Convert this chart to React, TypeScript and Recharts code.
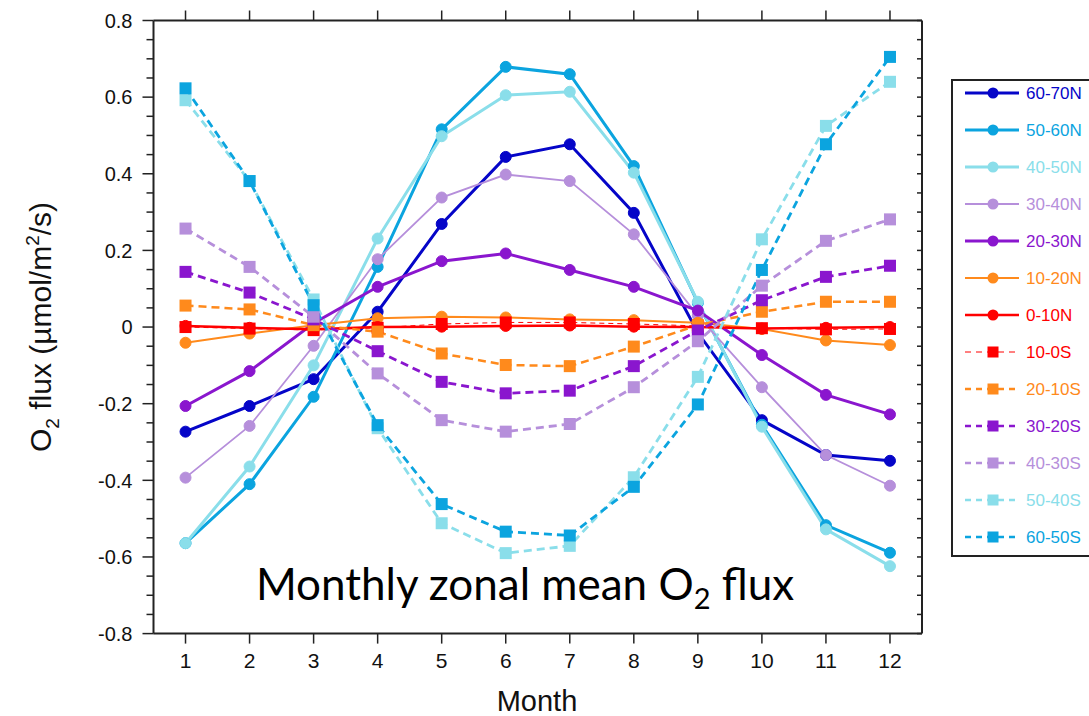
import React from 'react';
import { LineChart, Line, XAxis, YAxis, Label } from 'recharts';

// month on the x axis
const months = [1, 2, 3, 4, 5, 6, 7, 8, 9, 10, 11, 12];

// northern bands (solid, circles)
const n6070 = [-0.273, -0.206, -0.136, 0.04, 0.269, 0.444, 0.477, 0.298, -0.015, -0.243, -0.334, -0.349];
const n5060 = [-0.564, -0.41, -0.182, 0.157, 0.516, 0.679, 0.66, 0.42, 0.063, -0.255, -0.517, -0.589];
const n4050 = [-0.564, -0.364, -0.1, 0.231, 0.498, 0.605, 0.614, 0.403, 0.066, -0.26, -0.528, -0.624];
const n3040 = [-0.393, -0.258, -0.049, 0.177, 0.338, 0.398, 0.381, 0.242, 0.03, -0.157, -0.334, -0.414];
const n2030 = [-0.206, -0.115, 0.01, 0.105, 0.172, 0.192, 0.149, 0.105, 0.043, -0.073, -0.177, -0.228];
const n1020 = [-0.041, -0.017, 0.005, 0.023, 0.027, 0.025, 0.02, 0.018, 0.011, -0.005, -0.035, -0.047];
const n0010 = [0.003, -0.002, -0.006, 0.0, 0.001, 0.003, 0.004, 0.001, 0.0, -0.004, -0.002, 0.0];

// southern bands (dashed, squares)
const s1000 = [0.0, -0.004, -0.008, -0.002, 0.008, 0.012, 0.012, 0.008, 0.003, -0.003, -0.006, -0.005];
const s2010 = [0.056, 0.046, 0.005, -0.012, -0.069, -0.099, -0.102, -0.051, 0.005, 0.04, 0.066, 0.066];
const s3020 = [0.144, 0.09, 0.02, -0.063, -0.143, -0.173, -0.166, -0.102, -0.009, 0.07, 0.131, 0.16];
const s4030 = [0.257, 0.157, 0.027, -0.121, -0.243, -0.273, -0.253, -0.157, -0.037, 0.108, 0.225, 0.281];
const s5040 = [0.592, 0.381, 0.072, -0.264, -0.512, -0.59, -0.571, -0.392, -0.13, 0.229, 0.525, 0.64];
const s6050 = [0.623, 0.381, 0.057, -0.256, -0.462, -0.534, -0.544, -0.417, -0.202, 0.149, 0.477, 0.705];

const yMajorTicks = [-0.8, -0.6, -0.4, -0.2, 0, 0.2, 0.4, 0.6, 0.8];
const yAllTicks = [
  -0.8, -0.75, -0.7, -0.65, -0.6, -0.55, -0.5, -0.45, -0.4, -0.35, -0.3, -0.25, -0.2, -0.15, -0.1, -0.05,
  0, 0.05, 0.1, 0.15, 0.2, 0.25, 0.3, 0.35, 0.4, 0.45, 0.5, 0.55, 0.6, 0.65, 0.7, 0.75, 0.8,
];

const BLUE = '#0505C8';
const SKY = '#0BA4DF';
const CYAN = '#8ADEEA';
const LILAC = '#B68FDB';
const PURPLE = '#8A16CE';
const ORANGE = '#FF8A1C';
const RED = '#FF0000';

type Band = { name: string; values: number[]; color: string; width: number; dashed: boolean; square: boolean };

const bands: Band[] = [
  { name: '60-70N', values: n6070, color: BLUE, width: 3, dashed: false, square: false },
  { name: '50-60N', values: n5060, color: SKY, width: 3, dashed: false, square: false },
  { name: '40-50N', values: n4050, color: CYAN, width: 3, dashed: false, square: false },
  { name: '30-40N', values: n3040, color: LILAC, width: 1.8, dashed: false, square: false },
  { name: '20-30N', values: n2030, color: PURPLE, width: 3, dashed: false, square: false },
  { name: '10-20N', values: n1020, color: ORANGE, width: 2, dashed: false, square: false },
  { name: '0-10N', values: n0010, color: RED, width: 2.5, dashed: false, square: false },
  { name: '10-0S', values: s1000, color: RED, width: 1, dashed: true, square: true },
  { name: '20-10S', values: s2010, color: ORANGE, width: 2.5, dashed: true, square: true },
  { name: '30-20S', values: s3020, color: PURPLE, width: 2.8, dashed: true, square: true },
  { name: '40-30S', values: s4030, color: LILAC, width: 2.8, dashed: true, square: true },
  { name: '50-40S', values: s5040, color: CYAN, width: 2.8, dashed: true, square: true },
  { name: '60-50S', values: s6050, color: SKY, width: 2.8, dashed: true, square: true },
];

const data = months.map((m, i) => {
  const row: Record<string, number> = { month: m };
  bands.forEach((b) => {
    row[b.name] = b.values[i];
  });
  return row;
});

const AXIS = '#222';
const FONT = "'Liberation Sans', Arial, sans-serif";

const squareDot = (color: string) => (props: any) => {
  const { cx, cy, index } = props;
  if (cx == null || cy == null) return <g key={index} />;
  return <rect key={index} x={cx - 6} y={cy - 6} width={12} height={12} fill={color} />;
};

const fmtY = (v: number) => (v === 0 ? '0' : v.toFixed(1));

const LeftTick = (props: any) => {
  const { x, y, payload } = props;
  const major = yMajorTicks.includes(payload.value);
  return (
    <g>
      <line x1={x} x2={x - (major ? 11 : 7)} y1={y} y2={y} stroke={AXIS} strokeWidth={1.5} />
      {major && (
        <text x={x - 21} y={y} dy="0.36em" textAnchor="end" fontSize={20} fill="#111" fontFamily={FONT}>
          {fmtY(payload.value)}
        </text>
      )}
    </g>
  );
};

const RightTick = (props: any) => {
  const { x, y } = props;
  return <line x1={x} x2={x - 5} y1={y} y2={y} stroke={AXIS} strokeWidth={1.5} />;
};

const BottomTick = (props: any) => {
  const { x, y, payload } = props;
  return (
    <g>
      <line x1={x} x2={x} y1={y} y2={y + 10} stroke={AXIS} strokeWidth={1.5} />
      <text x={x} y={y + 27} dy="0.36em" textAnchor="middle" fontSize={21} fill="#111" fontFamily={FONT}>
        {payload.value}
      </text>
    </g>
  );
};

const TopTick = (props: any) => {
  const { x, y } = props;
  return <line x1={x} x2={x} y1={y} y2={y - 10} stroke={AXIS} strokeWidth={1.5} />;
};

const LegendBox = () => (
  <div
    style={{
      position: 'absolute',
      left: 951,
      top: 79,
      width: 150,
      height: 474,
      border: `2px solid ${AXIS}`,
      background: '#fff',
    }}
  >
    <svg width={150} height={474}>
      {bands.map((b, i) => {
        const cy = 12 + 37 * i;
        return (
          <g key={b.name}>
            <line
              x1={12}
              x2={66}
              y1={cy}
              y2={cy}
              stroke={b.color}
              strokeWidth={b.dashed ? Math.min(b.width, 2.5) : b.width}
              strokeDasharray={b.dashed ? '6 5' : undefined}
            />
            {b.square ? (
              <rect x={34.5} y={cy - 5.5} width={11} height={11} fill={b.color} />
            ) : (
              <circle cx={40} cy={cy} r={5.5} fill={b.color} />
            )}
            <text x={73} y={cy} dy="0.36em" fontSize={17} fill={b.color} fontFamily={FONT}>
              {b.name}
            </text>
          </g>
        );
      })}
    </svg>
  </div>
);

export default function App() {
  return (
    <div
      style={{
        position: 'absolute',
        left: 0,
        top: 0,
        width: 1089,
        height: 716,
        overflow: 'hidden',
        background: '#fff',
        fontFamily: FONT,
      }}
    >
      <LineChart width={1089} height={716} data={data} margin={{ top: 10.5, right: 157, bottom: 52.4, left: 93.5 }}>
        <XAxis
          dataKey="month"
          type="number"
          domain={[0.5, 12.5]}
          ticks={months}
          height={30}
          tickSize={0}
          tickMargin={0}
          tick={<BottomTick />}
          axisLine={{ stroke: AXIS, strokeWidth: 2 }}
          allowDataOverflow
        >
          <Label
            content={() => (
              <text x={537} y={711} textAnchor="middle" fontSize={29} fill="#111" fontFamily={FONT}>
                Month
              </text>
            )}
          />
        </XAxis>
        <XAxis
          xAxisId="top"
          dataKey="month"
          orientation="top"
          type="number"
          domain={[0.5, 12.5]}
          ticks={months}
          height={10}
          tickSize={0}
          tickMargin={0}
          tick={<TopTick />}
          axisLine={{ stroke: AXIS, strokeWidth: 2 }}
          allowDataOverflow
        />
        <YAxis
          type="number"
          domain={[-0.8, 0.8]}
          ticks={yAllTicks}
          interval={0}
          width={60}
          tickSize={0}
          tickMargin={0}
          tick={<LeftTick />}
          axisLine={{ stroke: AXIS, strokeWidth: 2 }}
          allowDataOverflow
        >
          <Label
            content={() => (
              <text
                x={40}
                y={327}
                transform="rotate(-90 40 327)"
                textAnchor="middle"
                dy="0.36em"
                fontSize={30}
                fill="#111"
                fontFamily={FONT}
              >
                O<tspan fontSize={19} dy={8}>2</tspan>
                <tspan dy={-8}> flux (µmol/m</tspan>
                <tspan fontSize={19} dy={-12}>2</tspan>
                <tspan dy={12}>/s)</tspan>
              </text>
            )}
          />
        </YAxis>
        <YAxis
          yAxisId="right"
          orientation="right"
          type="number"
          domain={[-0.8, 0.8]}
          ticks={yAllTicks}
          interval={0}
          width={10}
          tickSize={0}
          tickMargin={0}
          tick={<RightTick />}
          axisLine={{ stroke: AXIS, strokeWidth: 2 }}
          allowDataOverflow
        />
        {bands.map((b) => (
          <Line
            key={b.name}
            type="linear"
            dataKey={b.name}
            stroke={b.color}
            strokeWidth={b.width}
            strokeDasharray={b.dashed ? (b.width < 1.5 ? '5 4' : '8 5') : undefined}
            dot={b.square ? squareDot(b.color) : { r: 5.5, fill: b.color, stroke: b.color, strokeWidth: 1 }}
            activeDot={false}
            isAnimationActive={false}
          />
        ))}
      </LineChart>
      <svg width={1089} height={716} style={{ position: 'absolute', left: 0, top: 0, pointerEvents: 'none' }}>
        <text x={525} y={600} textAnchor="middle" fontSize={44} fill="#000" fontFamily="Lato, 'Open Sans', sans-serif">
          Monthly zonal mean O<tspan fontSize={29} dy={9}>2</tspan>
          <tspan dy={-9}> flux</tspan>
        </text>
      </svg>
      <LegendBox />
    </div>
  );
}
